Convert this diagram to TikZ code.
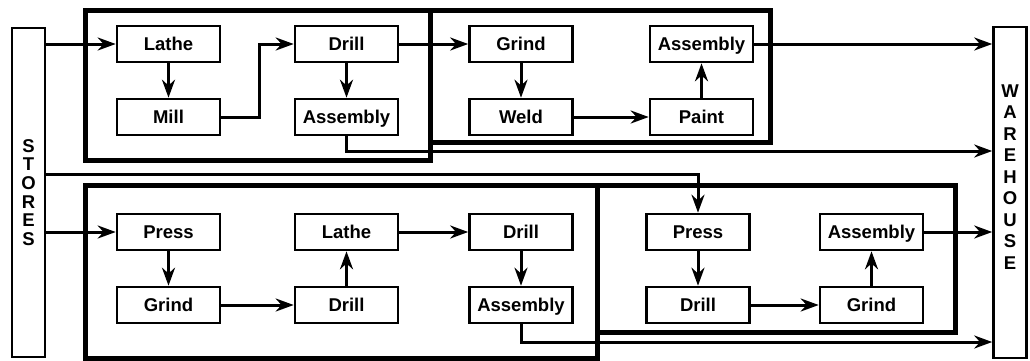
\documentclass[tikz,border=0pt]{standalone}
\usepackage{fontspec}
\setmainfont{Liberation Sans}
\usetikzlibrary{positioning,arrows.meta}

\begin{document}
\begin{tikzpicture}[
  x=1pt, y=-1pt,
  >={Stealth[length=18pt,width=13pt]},
  node distance=73pt,
  on grid,
  machine/.style={
    draw,
    rectangle,
    line width=2.6pt,
    minimum width=103pt,
    minimum height=36pt,
    inner sep=0pt,
    text height=13.3pt,
    text depth=0pt,
    font=\fontsize{18.5}{20}\selectfont\bfseries
  },
  depot/.style={
    draw,
    rectangle,
    line width=2.6pt,
    minimum width=33pt,
    inner sep=0pt,
    align=center
  },
  cell/.style={line width=5pt},
  flow/.style={->, line width=3pt}
]
\useasboundingbox (0,0) rectangle (1030,360);

% stores and warehouse
\node[depot, minimum height=329pt, font=\fontsize{18.5}{18.6}\selectfont\bfseries]
  (stores) at (28.5,192.5) {S\\T\\O\\R\\E\\S};
\node[depot, minimum height=331pt, text depth=31pt, font=\fontsize{18.5}{21.5}\selectfont\bfseries]
  (wh) at (1010,192.5) {W\\A\\R\\E\\H\\O\\U\\S\\E};

% cells
\draw[cell] (85,10) rectangle (430,160);
\draw[cell] (430,10) rectangle (770,142);
\draw[cell] (85,185) rectangle (597,358);
\draw[cell] (597,185) rectangle (955,332);

% upper line
\node[machine] (lathe) at (168.5,44) {Lathe};
\node[machine] (mill) [below=of lathe] {Mill};
\node[machine] (drill) at (346.5,44) {Drill};
\node[machine] (asmA) [below=of drill] {Assembly};
\node[machine] (grind) at (521,44) {Grind};
\node[machine] (weld) [below=of grind] {Weld};
\node[machine] (asmB) at (701.5,44) {Assembly};
\node[machine] (paint) [below=of asmB] {Paint};

% lower line
\node[machine] (press) at (168.5,232) {Press};
\node[machine] (grindB) [below=of press] {Grind};
\node[machine] (latheB) at (346.5,232) {Lathe};
\node[machine] (drillB) [below=of latheB] {Drill};
\node[machine] (drillC) at (521,232) {Drill};
\node[machine] (asmC) [below=of drillC] {Assembly};
\node[machine] (pressB) at (698,232) {Press};
\node[machine] (drillD) [below=of pressB] {Drill};
\node[machine] (asmD) at (871.5,232) {Assembly};
\node[machine] (grindC) [below=of asmD] {Grind};

\coordinate (feed) at (698,174);
\coordinate (outA) at (347,151);
\coordinate (outC) at (521,342);

% flows
\draw[flow] (stores.east |- lathe) -- (lathe);
\draw[flow] (lathe) -- (mill);
\draw[flow] (mill.east) -- ++(38,0) |- (drill);
\draw[flow] (drill) -- (asmA);
\draw[flow] (drill) -- (grind);
\draw[flow] (grind) -- (weld);
\draw[flow] (weld) -- (paint);
\draw[flow] (paint) -- (asmB);
\draw[flow] (asmB) -- (wh.west |- asmB);
\draw[flow] (asmA) |- (wh.west |- outA);

\draw[flow] (stores.east |- feed) -| (pressB);
\draw[flow] (stores.east |- press) -- (press);
\draw[flow] (press) -- (grindB);
\draw[flow] (grindB) -- (drillB);
\draw[flow] (drillB) -- (latheB);
\draw[flow] (latheB) -- (drillC);
\draw[flow] (drillC) -- (asmC);
\draw[flow] (asmC) |- (wh.west |- outC);
\draw[flow] (pressB) -- (drillD);
\draw[flow] (drillD) -- (grindC);
\draw[flow] (grindC) -- (asmD);
\draw[flow] (asmD) -- (wh.west |- asmD);
\end{tikzpicture}
\end{document}
